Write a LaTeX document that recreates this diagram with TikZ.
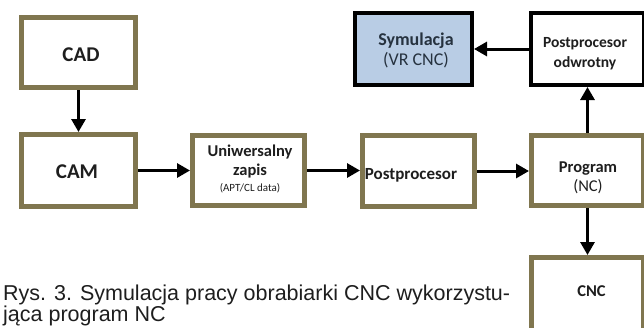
\documentclass[tikz,border=0pt]{standalone}
\usepackage{fontspec}
\setmainfont{Carlito}
\newfontfamily\capfont{Liberation Sans}
\usetikzlibrary{arrows.meta}
\definecolor{boxolive}{HTML}{80764F}
\definecolor{simblue}{HTML}{B9CDE5}
\definecolor{simtext}{HTML}{26323F}
\definecolor{ink}{HTML}{1E1E1E}
\begin{document}
\begin{tikzpicture}[x=1pt,y=-1pt,
  stagebox/.style={draw=boxolive,line width=5pt,fill=white,inner sep=0pt},
  viewbox/.style={draw=black,line width=4pt,fill=white,inner sep=0pt},
  lbl/.style={anchor=base,inner sep=0pt,text=ink},
  big/.style={font=\fontsize{21}{21}\selectfont\bfseries},
  mid/.style={font=\fontsize{16.5}{20}\selectfont\bfseries},
  midr/.style={font=\fontsize{16.5}{20}\selectfont},
  flow/.style={draw=black,line width=3pt,-{Triangle[length=13pt,width=14pt]}}]
\useasboundingbox (0,0) rectangle (644,327);
\clip (0,0) rectangle (644,327);
\fill[white] (0,0) rectangle (644,327);

% process boxes
\node[stagebox,minimum width=114pt,minimum height=70pt] (cad)  at (78.5,52.5) {};
\node[stagebox,minimum width=114pt,minimum height=72pt] (cam)  at (78.5,170.5) {};
\node[stagebox,minimum width=112pt,minimum height=70pt] (uni)  at (248.5,170.5) {};
\node[stagebox,minimum width=112pt,minimum height=71pt] (post) at (418.5,171) {};
\node[stagebox,minimum width=112pt,minimum height=70pt] (prog) at (587.5,170.5) {};
\node[stagebox,minimum width=112pt,minimum height=85pt] (cnc)  at (587.5,300) {};
\node[viewbox,fill=simblue,minimum width=117pt,minimum height=72pt] (sym) at (413.5,49) {};
\node[viewbox,minimum width=113pt,minimum height=72pt] (podw) at (587.5,49) {};

% box labels
\node[lbl,big] (cadT) at (81,61) {CAD};
\node[lbl,big] (camT) at (77,178) {CAM};
\node[lbl,mid] (uniT1) at (250,156) {Uniwersalny};
\node[lbl,mid] (uniT2) at (250,175) {zapis};
\node[lbl,font=\fontsize{11}{13}\selectfont] (uniT3) at (250,191) {(APT/CL data)};
\node[lbl,font=\fontsize{17}{20}\selectfont\bfseries] (postT) at (411,179) {Postprocesor};
\node[lbl,mid] (progT1) at (588,172) {Program};
\node[lbl,midr] (progT2) at (588,191) {(NC)};
\node[lbl,font=\fontsize{16.5}{18}\selectfont\bfseries] (cncT) at (591.5,296) {CNC};
\node[lbl,text=simtext,font=\fontsize{18}{20}\selectfont\bfseries] (symT1) at (416,45) {Symulacja};
\node[lbl,text=simtext,font=\fontsize{18}{20}\selectfont] (symT2) at (416,65) {(VR CNC)};
\node[lbl,font=\fontsize{15.5}{20}\selectfont\bfseries] (podwT1) at (585,47) {Postprocesor};
\node[lbl,font=\fontsize{15.5}{20}\selectfont\bfseries] (podwT2) at (585,67) {odwrotny};

% connectors
\draw[flow] (cad) -- (cam);
\draw[flow] (cam) -- (uni);
\draw[flow] (uni) -- (uni -| post.west);
\draw[flow] (post) -- (post -| prog.west);
\draw[flow] (prog) -- (podw);
\draw[flow] (podw) -- (sym);
\draw[flow] (prog) -- (cnc);

% caption
\node[anchor=base west,inner sep=0pt,text=ink,font=\capfont\fontsize{21.5}{21}\selectfont] (cap1) at (3,300) {Rys. 3. Symulacja pracy obrabiarki CNC wykorzystu-};
\node[anchor=base west,inner sep=0pt,text=ink,font=\capfont\fontsize{21.5}{21}\selectfont] (cap2) at (3,321) {jąca program NC};
\end{tikzpicture}
\end{document}
